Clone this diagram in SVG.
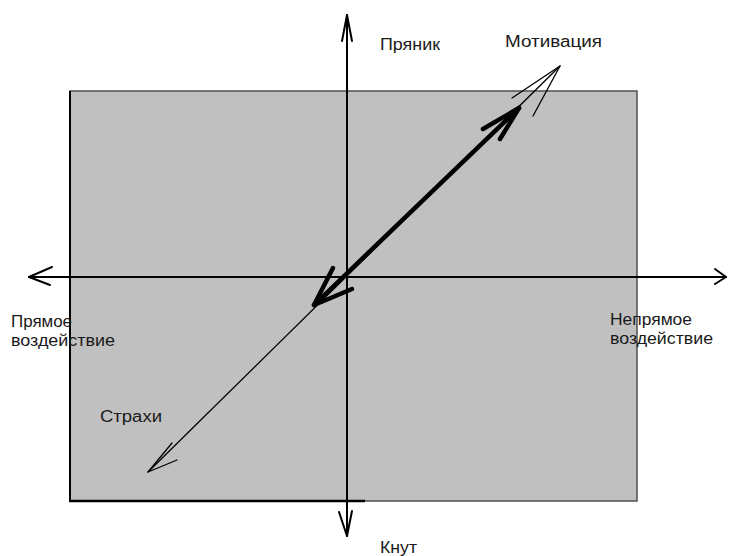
<svg xmlns="http://www.w3.org/2000/svg" width="731" height="556" viewBox="0 0 731 556">
<style>
text{font-family:"Liberation Sans",Arial,sans-serif;font-size:16px;fill:#1a1a1a}
.ax{stroke:#000;stroke-width:2;fill:none;stroke-linecap:round;stroke-linejoin:round}
.thin{stroke:#000;stroke-width:1.3;fill:none;stroke-linecap:round;stroke-linejoin:round}
.thick{stroke:#000;stroke-width:4.5;fill:none;stroke-linecap:round;stroke-linejoin:round}
</style>
<rect width="731" height="556" fill="#fff"/>
<g id="field">
<rect x="70" y="91" width="567" height="410" fill="#c0c0c0" stroke="#505050" stroke-width="1.5"/>
<line x1="70" y1="91" x2="70" y2="501" stroke="#000" stroke-width="2"/>
<line x1="69" y1="501" x2="365" y2="501" stroke="#000" stroke-width="2.5"/>
</g>
<g id="connectors">
<g id="axis-vertical">
<line class="ax" x1="347" y1="15" x2="347" y2="536"/>
<polyline class="ax" points="342,41 347,15 352,41"/>
<polyline class="ax" points="339,512 347,536 352,511"/>
</g>
<g id="axis-horizontal">
<line class="ax" x1="29" y1="277" x2="726" y2="277"/>
<polyline class="ax" points="52,267 29,277 50,285"/>
<polyline class="ax" points="715,269 726,277 715,284"/>
</g>
<g id="thin-diagonal">
<line class="thin" x1="148" y1="472" x2="560" y2="66"/>
<polyline class="thin" points="172,443 148,472 177,460"/>
<polyline class="thin" points="512,98 560,66 533,116"/>
</g>
<g id="thick-diagonal">
<line class="thick" x1="314" y1="305" x2="519" y2="108"/>
<polyline class="thick" points="333,268 314,305 352,289"/>
<polyline class="thick" points="483,129 519,108 500,139"/>
</g>
</g>
<g id="label-pryanik"><text x="380" y="50" textLength="60" lengthAdjust="spacingAndGlyphs">Пряник</text></g>
<g id="label-motivatsiya"><text x="505" y="47" textLength="97" lengthAdjust="spacingAndGlyphs">Мотивация</text></g>
<g id="label-pryamoe"><text x="11" y="327" textLength="61" lengthAdjust="spacingAndGlyphs">Прямое</text><text x="11" y="346" textLength="104" lengthAdjust="spacingAndGlyphs">воздействие</text></g>
<g id="label-nepryamoe"><text x="610" y="325" textLength="82" lengthAdjust="spacingAndGlyphs">Непрямое</text><text x="610" y="344" textLength="103" lengthAdjust="spacingAndGlyphs">воздействие</text></g>
<g id="label-strakhi"><text x="100" y="422" textLength="62" lengthAdjust="spacingAndGlyphs">Страхи</text></g>
<g id="label-knut"><text x="380" y="553" textLength="37" lengthAdjust="spacingAndGlyphs">Кнут</text></g>
</svg>
